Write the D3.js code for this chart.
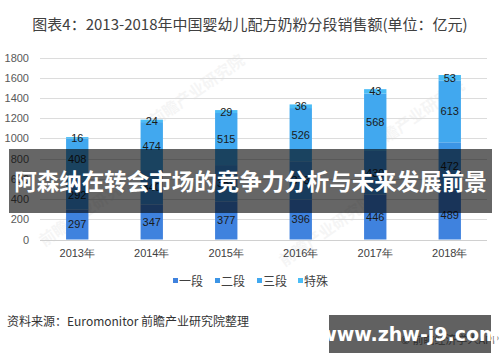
<!DOCTYPE html>
<html>
<head>
<meta charset="utf-8">
<script src="https://cdn.jsdelivr.net/npm/d3@7"></script>
<style>
  body { margin: 0; background: #fff; }
  svg { display: block; font-family: "Noto Sans CJK SC", "Noto Sans", sans-serif; }
</style>
</head>
<body>
<div id="chart"></div>
<script>
// categories and series (亿元)
const years = ["2013年", "2014年", "2015年", "2016年", "2017年", "2018年"];
const seriesNames = ["一段", "二段", "三段", "特殊"];
const stage1 = [297, 347, 377, 396, 446, 489];
const stage2 = [292, 340, 359, 378, 430, 472];
const stage3 = [408, 474, 515, 526, 568, 613];
const special = [16, 24, 29, 36, 43, 53];
const yTicks = [0, 200, 400, 600, 800, 1000, 1200, 1400, 1600, 1800];
const colors = ["#3f82de", "#3c95e6", "#41a8ef", "#4bbdf6"];

const width = 500, height = 362;
const svg = d3.select('#chart').append('svg').attr('width', width).attr('height', height);

// title
svg.append('text').attr('x', 250).attr('y', 30).attr('text-anchor', 'middle')
  .attr('font-size', '15px').attr('fill', '#404040')
  .text("图表4：2013-2018年中国婴幼儿配方奶粉分段销售额(单位：亿元)");

// faint watermarks
[[200, 95], [420, 120], [90, 215], [330, 235]].forEach(function(p){
  svg.append('text').attr('transform', 'translate(' + p[0] + ',' + p[1] + ') rotate(-35)')
    .attr('text-anchor', 'middle').attr('font-size', '16px').attr('font-weight', 'bold')
    .attr('fill', '#000').attr('opacity', 0.035).text("前瞻产业研究院");
});

var x = d3.scaleBand().domain(years).range([40, 487]).paddingInner(0.7).paddingOuter(0.35);
var y = d3.scaleLinear().domain([0, 1800]).range([239.5, 57.5]);

// grid
svg.append('g').selectAll('line').data(yTicks).enter().append('line')
  .attr('x1', 40).attr('x2', 487)
  .attr('y1', d => Math.round(y(d)) + 0.5).attr('y2', d => Math.round(y(d)) + 0.5)
  .attr('stroke', d => d === 0 ? '#d0d0d0' : '#dcdcdc').attr('stroke-width', 1);

// y axis labels
var yAxis = d3.axisLeft(y).tickValues(yTicks).tickFormat(d3.format('d')).tickSize(0).tickPadding(0);
var gy = svg.append('g').attr('transform', 'translate(29,0)').call(yAxis);
gy.select('.domain').remove();
gy.selectAll('text').attr('font-size', '11px').attr('fill', '#595959').attr('font-family', '"Liberation Sans", Arial, sans-serif');

// x axis labels
var xAxis = d3.axisBottom(x).tickSize(0).tickPadding(0);
var gx = svg.append('g').attr('transform', 'translate(0,249)').call(xAxis);
gx.select('.domain').remove();
gx.selectAll('text').attr('font-size', '11px').attr('fill', '#404040');

// stacked bars
var rows = years.map((yr, i) => ({ year: yr, "一段": stage1[i], "二段": stage2[i], "三段": stage3[i], "特殊": special[i] }));
var stacked = d3.stack().keys(seriesNames)(rows);

var layers = svg.append('g').selectAll('g').data(stacked).enter().append('g')
  .attr('fill', (d, i) => colors[i]);
layers.selectAll('rect').data(d => d).enter().append('rect')
  .attr('x', d => x(d.data.year))
  .attr('width', x.bandwidth())
  .attr('y', d => y(d[1]))
  .attr('height', d => y(d[0]) - y(d[1]));

layers.selectAll('text').data(d => d).enter().append('text')
  .attr('x', d => x(d.data.year) + x.bandwidth() / 2)
  .attr('y', d => (y(d[0]) + y(d[1])) / 2 + 4)
  .attr('text-anchor', 'middle').attr('font-size', '11px')
  .attr('font-family', '"Liberation Sans", Arial, sans-serif')
  .attr('fill', '#1a1a1a')
  .text(d => d[1] - d[0]);

// legend
var legendX = [173, 215, 257, 298];
var legend = svg.append('g').selectAll('g').data(seriesNames).enter().append('g')
  .attr('transform', (d, i) => 'translate(' + legendX[i] + ',281)');
legend.append('rect').attr('x', 0).attr('y', -3).attr('width', 5).attr('height', 5)
  .attr('fill', (d, i) => colors[i]);
legend.append('text').attr('x', 6).attr('y', 4.5).attr('font-size', '12px').attr('fill', '#404040').text(d => d);

// source
svg.append('text').attr('x', 7).attr('y', 326).attr('font-size', '12px').attr('fill', '#333')
  .text("资料来源：Euromonitor 前瞻产业研究院整理");
svg.append('text').attr('x', 499).attr('y', 344).attr('text-anchor', 'end')
  .attr('font-size', '11px').attr('fill', '#777').text("© 前瞻经济学人APP");

// overlay banner
svg.append('rect').attr('x', 9).attr('y', 149).attr('width', 483).attr('height', 64)
  .attr('fill', 'rgba(0,0,0,0.6)');
svg.append('text').attr('x', 250.5).attr('y', 190).attr('text-anchor', 'middle')
  .attr('font-size', '22.5px').attr('font-weight', 'bold').attr('fill', '#fff')
  .text("阿森纳在转会市场的竞争力分析与未来发展前景");

// site box
svg.append('rect').attr('x', 329).attr('y', 315).attr('width', 162).attr('height', 38)
  .attr('fill', 'rgba(0,0,0,0.62)');
svg.append('text').attr('x', 409).attr('y', 341).attr('text-anchor', 'middle')
  .attr('font-size', '19px').attr('font-weight', 'bold').attr('fill', '#fff')
  .attr('font-family', '"DejaVu Sans", "Noto Sans", sans-serif')
  .text("www.zhw-j9.com");
</script>
</body>
</html>
